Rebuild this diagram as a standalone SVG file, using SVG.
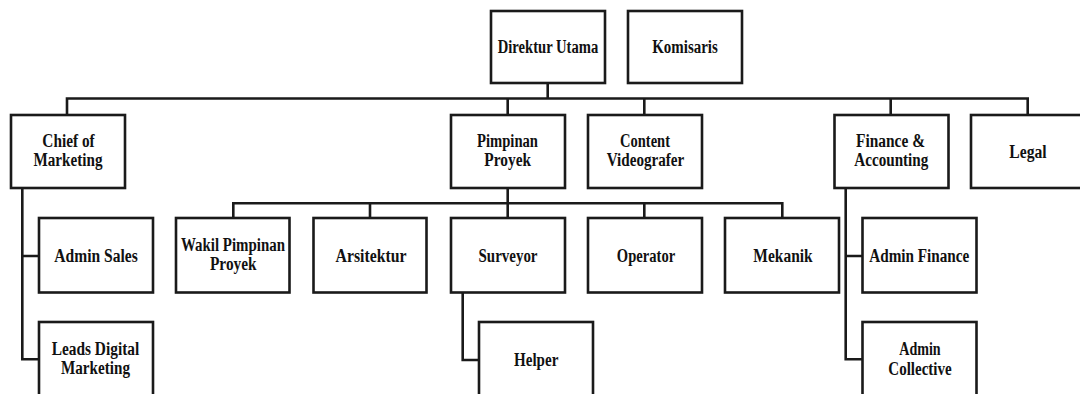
<svg xmlns="http://www.w3.org/2000/svg" width="1080" height="394" viewBox="0 0 1080 394">
<style>
.box{fill:#fff;stroke:#1a1a1a;stroke-width:2.6}
.t{font-family:"Liberation Serif","Times New Roman",serif;font-weight:bold;font-size:18.5px;fill:#111;text-anchor:middle}
.c{fill:none;stroke:#1a1a1a;stroke-width:2.6}
</style>
<rect width="1080" height="394" fill="#fff"/>
<g id="connectors" class="c">
<path d="M547.7 83 V98.5"/>
<path d="M67 115 V98.5 H1027.7 V115"/>
<path d="M507.7 98.5 V115 M644.3 98.5 V115 M890.7 98.5 V115"/>
<path d="M22.3 188 V359.3 H39 M22.3 256 H39"/>
<path d="M507.7 188 V218"/>
<path d="M233.3 218 V203.3 H782.3 V218 M370 203.3 V218 M644.3 203.3 V218"/>
<path d="M462.7 292.5 V360 H479"/>
<path d="M845.7 188 V359.3 H862.5 M845.7 256 H862.5"/>
</g>
<g id="direktur"><rect class="box" x="491" y="11" width="114" height="72"/><text class="t" x="548" y="53.3" textLength="100.6" lengthAdjust="spacingAndGlyphs">Direktur Utama</text></g>
<g id="komisaris"><rect class="box" x="628" y="11" width="114" height="72"/><text class="t" x="685" y="53.3" textLength="65.6" lengthAdjust="spacingAndGlyphs">Komisaris</text></g>
<g id="chief"><rect class="box" x="11" y="115" width="114" height="73"/><text class="t" x="68.5" y="147" textLength="52.3" lengthAdjust="spacingAndGlyphs">Chief of</text><text class="t" x="68" y="166" textLength="69" lengthAdjust="spacingAndGlyphs">Marketing</text></g>
<g id="pimpinan"><rect class="box" x="451" y="115" width="114" height="73"/><text class="t" x="507.5" y="147" textLength="61" lengthAdjust="spacingAndGlyphs">Pimpinan</text><text class="t" x="507.7" y="166" textLength="46.7" lengthAdjust="spacingAndGlyphs">Proyek</text></g>
<g id="content"><rect class="box" x="588" y="115" width="114" height="73"/><text class="t" x="645" y="147" textLength="50" lengthAdjust="spacingAndGlyphs">Content</text><text class="t" x="645.5" y="166" textLength="77.6" lengthAdjust="spacingAndGlyphs">Videografer</text></g>
<g id="finance"><rect class="box" x="834.5" y="115" width="114" height="73"/><text class="t" x="890.5" y="147" textLength="69" lengthAdjust="spacingAndGlyphs">Finance &amp;</text><text class="t" x="891.3" y="166" textLength="74" lengthAdjust="spacingAndGlyphs">Accounting</text></g>
<g id="legal"><rect class="box" x="971" y="115" width="114" height="73"/><text class="t" x="1028" y="157.5" textLength="37.4" lengthAdjust="spacingAndGlyphs">Legal</text></g>
<g id="adminsales"><rect class="box" x="39" y="218" width="114" height="74.5"/><text class="t" x="96" y="261.5" textLength="83.4" lengthAdjust="spacingAndGlyphs">Admin Sales</text></g>
<g id="wakil"><rect class="box" x="176" y="218" width="113.5" height="74.5"/><text class="t" x="233" y="251" textLength="104" lengthAdjust="spacingAndGlyphs">Wakil Pimpinan</text><text class="t" x="233.3" y="270" textLength="46.7" lengthAdjust="spacingAndGlyphs">Proyek</text></g>
<g id="arsitektur"><rect class="box" x="313.5" y="218" width="113" height="74.5"/><text class="t" x="371" y="261.5" textLength="71" lengthAdjust="spacingAndGlyphs">Arsitektur</text></g>
<g id="surveyor"><rect class="box" x="451" y="218" width="114" height="74.5"/><text class="t" x="508" y="261.5" textLength="59" lengthAdjust="spacingAndGlyphs">Surveyor</text></g>
<g id="operator"><rect class="box" x="588" y="218" width="114" height="74.5"/><text class="t" x="646" y="261.5" textLength="58.3" lengthAdjust="spacingAndGlyphs">Operator</text></g>
<g id="mekanik"><rect class="box" x="725" y="218" width="114" height="74.5"/><text class="t" x="783" y="261.5" textLength="59.4" lengthAdjust="spacingAndGlyphs">Mekanik</text></g>
<g id="adminfinance"><rect class="box" x="862.5" y="218" width="114" height="74.5"/><text class="t" x="919.3" y="261.5" textLength="100" lengthAdjust="spacingAndGlyphs">Admin Finance</text></g>
<g id="leads"><rect class="box" x="39" y="322" width="114" height="80"/><text class="t" x="95.5" y="355" textLength="87.6" lengthAdjust="spacingAndGlyphs">Leads Digital</text><text class="t" x="95.5" y="374" textLength="69" lengthAdjust="spacingAndGlyphs">Marketing</text></g>
<g id="helper"><rect class="box" x="479" y="322" width="114" height="80"/><text class="t" x="536.2" y="366" textLength="44.3" lengthAdjust="spacingAndGlyphs">Helper</text></g>
<g id="admincollective"><rect class="box" x="862.5" y="322" width="114" height="80"/><text class="t" x="920" y="355" textLength="41.4" lengthAdjust="spacingAndGlyphs">Admin</text><text class="t" x="920" y="375" textLength="63.4" lengthAdjust="spacingAndGlyphs">Collective</text></g>
</svg>
